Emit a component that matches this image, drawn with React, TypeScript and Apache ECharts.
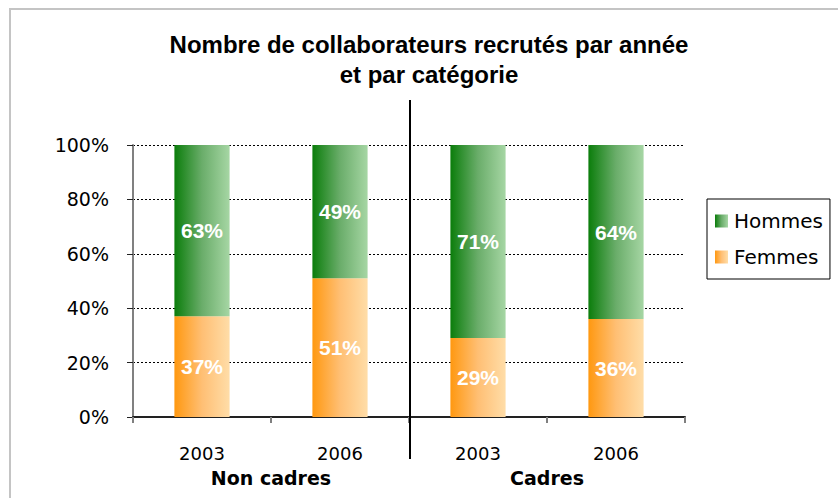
import React, { useEffect, useRef } from "react";
import * as echarts from "echarts";

const years = ["2003", "2006", "2003", "2006"];
const groups = ["Non cadres", "Cadres"];
const hommes = [63, 49, 71, 64];
const femmes = [37, 51, 29, 36];

const greenGrad = () =>
  new echarts.graphic.LinearGradient(0, 0, 1, 0, [
    { offset: 0, color: "#0b7d0b" },
    { offset: 0.5, color: "#6aad6a" },
    { offset: 1, color: "#a6d6a4" },
  ]);
const orangeGrad = () =>
  new echarts.graphic.LinearGradient(0, 0, 1, 0, [
    { offset: 0, color: "#ff9810" },
    { offset: 0.5, color: "#ffbf74" },
    { offset: 1, color: "#ffdda8" },
  ]);

export default function App() {
  const ref = useRef<HTMLDivElement>(null);
  useEffect(() => {
    const chart = echarts.init(ref.current!, null, { renderer: "svg" });
    const labelStyle = {
      show: true,
      position: "inside",
      color: "#ffffff",
      fontFamily: "Liberation Sans, Arial, sans-serif",
      fontWeight: "bold",
      fontSize: 21,
      formatter: "{c}%",
    };
    chart.setOption({
      animation: false,
      backgroundColor: "#ffffff",
      title: {
        text: "Nombre de collaborateurs recrutés par année\net par catégorie",
        left: 424,
        top: 24,
        textAlign: "center",
        textStyle: {
          fontFamily: "Liberation Sans, Arial, sans-serif",
          fontWeight: "bold",
          fontSize: 24,
          lineHeight: 30,
          color: "#000000",
        },
      },
      legend: {
        orient: "vertical",
        left: 707,
        top: 199,
        data: ["Hommes", "Femmes"],
        itemWidth: 13,
        itemHeight: 13,
        itemGap: 16,
        icon: "rect",
        borderColor: "#000000",
        borderWidth: 1,
        padding: [12, 7, 12, 8],
        textStyle: {
          fontFamily: "DejaVu Sans, sans-serif",
          fontSize: 20,
          color: "#000000",
          padding: [0, 0, 0, 1],
        },
      },
      grid: { left: 133, right: 153, top: 145, bottom: 81 },
      xAxis: [
        {
          type: "category",
          data: years,
          axisLine: { lineStyle: { color: "#222222", width: 2 } },
          axisTick: { show: true, length: 6, lineStyle: { color: "#808080", width: 2 } },
          axisLabel: {
            fontFamily: "DejaVu Sans, sans-serif",
            fontSize: 18,
            color: "#000000",
            margin: 27,
          },
        },
        {
          type: "category",
          data: groups,
          position: "bottom",
          offset: 51,
          axisLine: { show: false },
          axisTick: { show: false },
          axisLabel: {
            fontFamily: "DejaVu Sans, sans-serif",
            fontSize: 19,
            fontWeight: "bold",
            color: "#000000",
            margin: 0,
          },
        },
      ],
      yAxis: {
        type: "value",
        min: 0,
        max: 100,
        interval: 20,
        axisLine: { show: true, lineStyle: { color: "#808080", width: 2 } },
        axisTick: { show: true, length: 6, lineStyle: { color: "#222222" } },
        axisLabel: {
          formatter: "{value}%",
          fontFamily: "DejaVu Sans, sans-serif",
          fontSize: 19,
          color: "#000000",
          margin: 24,
        },
        splitLine: {
          show: true,
          lineStyle: { color: "#000000", type: [2, 2], width: 1 },
        },
      },
      series: [
        {
          name: "Femmes",
          type: "bar",
          stack: "total",
          xAxisIndex: 0,
          barWidth: "40%",
          data: femmes,
          itemStyle: { color: orangeGrad() },
          label: labelStyle,
        },
        {
          name: "Hommes",
          type: "bar",
          stack: "total",
          xAxisIndex: 0,
          barWidth: "40%",
          data: hommes,
          itemStyle: { color: greenGrad() },
          label: labelStyle,
        },
      ],
      graphic: [
        {
          type: "line",
          shape: { x1: 410, y1: 100, x2: 410, y2: 459 },
          style: { stroke: "#000000", lineWidth: 2 },
          z: 10,
        },
        {
          type: "polyline",
          shape: { points: [[10, 498], [10, 9], [838, 9]] },
          style: { stroke: "#c4c4c4", lineWidth: 2, fill: "none" },
        },
      ],
    });
    return () => chart.dispose();
  }, []);
  return <div ref={ref} style={{ width: 838, height: 498, position: "absolute", left: 0, top: 0 }} />;
}
